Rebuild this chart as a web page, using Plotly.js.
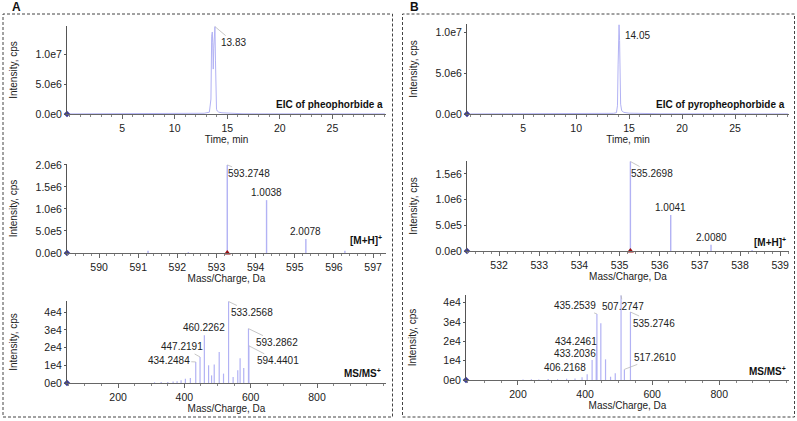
<!DOCTYPE html>
<html><head><meta charset="utf-8">
<script src="https://cdn.plot.ly/plotly-3.0.1.min.js"></script>
<style>html,body{margin:0;padding:0;background:#fff;}#chart{width:797px;height:421px;}</style>
</head><body><div id="chart"></div>
<script>
// ---------- DATA ----------
// Panel A: pheophorbide a
const eicA_time = [0, 3, 6, 9, 11, 12, 12.8, 13.3, 13.45, 13.52, 13.58, 13.62, 13.67, 13.72, 13.77, 13.83, 13.88, 13.93, 13.98, 14.05, 14.2, 14.5, 15.0, 15.5, 16.0, 16.5, 18, 22, 26, 30];
const eicA_int  = [2e4, 2e4, 3e4, 3e4, 6e4, 8e4, 1.2e5, 3e5, 2.5e6, 1.3e7, 1.37e7, 1.2e7, 7.5e6, 1.1e7, 1.4e7, 1.46e7, 9e6, 3e6, 8e5, 5e5, 3e5, 2e5, 1.5e5, 1e5, 7e4, 4e4, 3e4, 2e4, 2e4, 2e4];
const msA_mz  = [591.25, 592.28, 593.2748, 594.2786, 595.2826, 596.28];
const msA_int = [5e4, 2e4, 2.0e6, 1.2e6, 3.2e5, 5e4];
const msmsA_mz  = [310, 330, 350, 366, 378, 390, 403, 418, 434.2484, 447.2191, 460.2262, 473, 482, 490, 505, 518, 533.2568, 547, 561, 568, 579, 593.2862, 594.4401];
const msmsA_int = [4e2, 5e2, 6e2, 8e2, 1e3, 1.5e3, 2.4e3, 2.8e3, 1.19e4, 1.47e4, 2.7e4, 1.0e4, 4.3e3, 1.05e4, 1.75e4, 5.3e3, 4.6e4, 3.4e3, 7.2e3, 1.4e4, 8.5e3, 3.07e4, 2.1e4];
const precursorA = 593.2748;

// Panel B: pyropheophorbide a
const eicB_time = [0, 4, 8, 11, 12.5, 13.5, 13.8, 13.9, 13.96, 14.0, 14.05, 14.1, 14.15, 14.2, 14.3, 14.5, 15, 16, 18, 24, 30];
const eicB_int  = [1e4, 1e4, 2e4, 3e4, 5e4, 8e4, 1.5e5, 1e6, 6e6, 1.05e7, 1.09e7, 9e6, 4e6, 1.2e6, 4e5, 2e5, 1e5, 5e4, 3e4, 2e4, 1e4];
const msB_mz  = [533.5, 535.2698, 536.2739, 537.2778, 538.3];
const msB_int = [1e4, 1.74e6, 7.0e5, 1.2e5, 2e4];
const msmsB_mz  = [215, 240, 262, 290, 318, 345, 370, 391, 406.2168, 421, 433.2036, 434.2461, 435.2539, 447, 461, 476, 490, 507.2747, 517.2610, 535.2746];
const msmsB_int = [3e2, 4e2, 3e2, 5e2, 4e2, 6e2, 8e2, 1.4e3, 3e3, 1.04e4, 1.2e4, 1.8e4, 3.42e4, 2.94e4, 1.07e4, 1.7e3, 3.5e3, 4.38e4, 5.5e3, 3.52e4];
const precursorB = 535.2698;

// Tick labels
const eicXTicks = [5, 10, 15, 20, 25];
const eicYVals = [0, 5e6, 1e7];
const eicYText = ['0.0e0', '5.0e6', '1.0e7'];
const msAXTicks = [590, 591, 592, 593, 594, 595, 596, 597];
const msAYVals = [0, 5e5, 1e6, 1.5e6, 2e6];
const msAYText = ['0.0e0', '5.0e5', '1.0e6', '1.5e6', '2.0e6'];
const msBXTicks = [532, 533, 534, 535, 536, 537, 538, 539];
const msBYVals = [0, 5e5, 1e6, 1.5e6];
const msBYText = ['0.0e0', '5.0e5', '1.0e6', '1.5e6'];
const msmsXTicks = [200, 400, 600, 800];
const msmsYVals = [0, 1e4, 2e4, 3e4, 4e4];
const msmsYText = ['0e0', '1e4', '2e4', '3e4', '4e4'];

// Peak labels
const eicALabel = {x: 13.83, text: '13.83'};
const eicBLabel = {x: 14.05, text: '14.05'};
const msALabels = ['593.2748', '1.0038', '2.0078'];
const msBLabels = ['535.2698', '1.0041', '2.0080'];
const msmsALabelMz = [533.2568, 460.2262, 447.2191, 434.2484, 593.2862, 594.4401];
const msmsBLabelMz = [435.2539, 434.2461, 433.2036, 406.2168, 507.2747, 535.2746, 517.2610];

// ---------- HELPERS ----------
const W = 797, H = 421;
const FONT = 'Arial, "Liberation Sans", sans-serif';
const LINE = '#b2b2f4';
const dx = (a, b) => [a / W, b / W];
const dy = (top, bot) => [1 - bot / H, 1 - top / H];

function sticks(mz, it) {
  const x = [], y = [];
  mz.forEach((m, i) => { x.push(m, m, null); y.push(0, it[i], null); });
  return {x, y};
}
function intensityOf(mzArr, intArr, m) { return intArr[mzArr.indexOf(m)]; }

const ranges = {
  x1: [-0.24, 30.1], x2: [589.18, 597.33], x3: [46, 1008],
  x4: [-0.31, 30.1], x5: [531.2, 539.22], x6: [45, 1008]
};

const traces = [];
function addLine(xa, ya, x, y, w) {
  traces.push({type: 'scatter', mode: 'lines', x, y, xaxis: xa, yaxis: ya,
    line: {color: LINE, width: w}, hoverinfo: 'skip'});
}
addLine('x', 'y', eicA_time, eicA_int, 1);
let s = sticks(msA_mz, msA_int); addLine('x2', 'y2', s.x, s.y, 1.4);
s = sticks(msmsA_mz, msmsA_int); addLine('x3', 'y3', s.x, s.y, 1.2);
addLine('x4', 'y4', eicB_time, eicB_int, 1);
s = sticks(msB_mz, msB_int); addLine('x5', 'y5', s.x, s.y, 1.4);
s = sticks(msmsB_mz, msmsB_int); addLine('x6', 'y6', s.x, s.y, 1.2);

// start markers (navy) and precursor markers (red)
[['x','y','x1'],['x2','y2','x2'],['x3','y3','x3'],['x4','y4','x4'],['x5','y5','x5'],['x6','y6','x6']].forEach(([xa, ya, r]) => {
  traces.push({type: 'scatter', mode: 'markers', x: [ranges[r][0]], y: [0], xaxis: xa, yaxis: ya,
    marker: {symbol: 'diamond', size: 5, color: '#3b3b95'}, cliponaxis: false, hoverinfo: 'skip'});
});
traces.push({type: 'scatter', mode: 'markers', x: [precursorA], y: [0], xaxis: 'x2', yaxis: 'y2',
  marker: {symbol: 'triangle-up', size: 6, color: '#9b1010'}, cliponaxis: false, hoverinfo: 'skip'});
traces.push({type: 'scatter', mode: 'markers', x: [precursorB], y: [0], xaxis: 'x5', yaxis: 'y5',
  marker: {symbol: 'triangle-up', size: 6, color: '#9b1010'}, cliponaxis: false, hoverinfo: 'skip'});

const tickFont = {family: FONT, size: 10.5, color: '#222'};
const titleFont = {family: FONT, size: 10, color: '#222'};
function xAxis(dom, anchor, range, tickvals, title, minor) {
  return {domain: dom, anchor, range, tickmode: 'array', tickvals, ticktext: tickvals.map(String),
    showline: true, linecolor: '#666', linewidth: 1, ticks: 'outside', ticklen: 4, tickcolor: '#666',
    minor: {ticks: 'outside', ticklen: 2, tickcolor: '#888', dtick: minor, showgrid: false},
    showgrid: false, zeroline: false, tickfont: tickFont,
    title: {text: title, font: titleFont, standoff: 1}, fixedrange: true};
}
function yAxis(dom, anchor, range, vals, text, standoff) {
  return {domain: dom, anchor, range, tickmode: 'array', tickvals: vals, ticktext: text,
    showline: true, linecolor: '#555', linewidth: 1, ticks: 'outside', ticklen: 2, tickcolor: '#555',
    showgrid: false, zeroline: false, tickfont: tickFont,
    title: {text: 'Intensity, cps', font: titleFont, standoff}, fixedrange: true};
}

const layout = {
  width: W, height: H, margin: {l: 0, r: 0, t: 0, b: 0}, showlegend: false,
  paper_bgcolor: '#fff', plot_bgcolor: '#fff', font: {family: FONT},
  xaxis:  xAxis(dx(67, 386), 'y',  ranges.x1, eicXTicks, 'Time, min', 1),
  yaxis:  yAxis(dy(26, 114), 'x',  [0, 1.47e7], eicYVals, eicYText, 16),
  xaxis2: xAxis(dx(67, 386), 'y2', ranges.x2, msAXTicks, 'Mass/Charge, Da', 0.2),
  yaxis2: yAxis(dy(164, 253), 'x2', [0, 2.02e6], msAYVals, msAYText, 16),
  xaxis3: xAxis(dx(67, 386), 'y3', ranges.x3, msmsXTicks, 'Mass/Charge, Da', 50),
  yaxis3: yAxis(dy(301, 383), 'x3', [0, 4.63e4], msmsYVals, msmsYText, 24),
  xaxis4: xAxis(dx(467, 789), 'y4', ranges.x4, eicXTicks, 'Time, min', 1),
  yaxis4: yAxis(dy(24, 114), 'x4', [0, 1.1e7], eicYVals, eicYText, 16),
  xaxis5: xAxis(dx(467, 789), 'y5', ranges.x5, msBXTicks, 'Mass/Charge, Da', 0.2),
  yaxis5: yAxis(dy(161, 251), 'x5', [0, 1.75e6], msBYVals, msBYText, 16),
  xaxis6: xAxis(dx(466, 789), 'y6', ranges.x6, msmsXTicks, 'Mass/Charge, Da', 50),
  yaxis6: yAxis(dy(295, 380), 'x6', [0, 4.4e4], msmsYVals, msmsYText, 24),
  shapes: [
    {type: 'rect', xref: 'paper', yref: 'paper', x0: 3 / W, x1: 392.5 / W, y0: 1 - 417 / H, y1: 1 - 14 / H,
     line: {color: '#444', width: 1, dash: '3px,2px'}},
    {type: 'rect', xref: 'paper', yref: 'paper', x0: 402.5 / W, x1: 794.5 / W, y0: 1 - 417 / H, y1: 1 - 14 / H,
     line: {color: '#444', width: 1, dash: '3px,2px'}}
  ],
  annotations: []
};

const ann = layout.annotations;
const annFont = {family: FONT, size: 10, color: '#222'};
function callout(xr, yr, x, y, text, ax, ay) {
  ann.push({xref: xr, yref: yr, x, y, text, showarrow: true, arrowhead: 0, arrowwidth: 0.8,
    arrowcolor: '#b8b8b8', ax, ay, standoff: 0, font: annFont});
}
function above(xr, yr, x, y, text) {
  ann.push({xref: xr, yref: yr, x, y, text, showarrow: false, yanchor: 'bottom', xanchor: 'center', font: annFont});
}
function paperText(xpx, ypx, text, anchor, size) {
  ann.push({xref: 'paper', yref: 'paper', x: xpx / W, y: 1 - ypx / H, text, showarrow: false,
    xanchor: anchor, yanchor: 'middle', font: {family: FONT, size, color: '#111'}});
}

// EIC labels
callout('x', 'y', eicALabel.x, intensityOf(eicA_time, eicA_int, eicALabel.x), eicALabel.text, 19, 16);
callout('x4', 'y4', eicBLabel.x, intensityOf(eicB_time, eicB_int, eicBLabel.x), eicBLabel.text, 18, 11);
// MS labels
callout('x2', 'y2', msA_mz[2], msA_int[2], msALabels[0], 22, 9);
above('x2', 'y2', msA_mz[3], msA_int[3], msALabels[1]);
above('x2', 'y2', msA_mz[4], msA_int[4], msALabels[2]);
callout('x5', 'y5', msB_mz[1], msB_int[1], msBLabels[0], 22, 12);
above('x5', 'y5', msB_mz[2], msB_int[2], msBLabels[1]);
above('x5', 'y5', msB_mz[3], msB_int[3], msBLabels[2]);
// MS/MS A labels
const offA = [[23, 11], null, [-18, -10], [-27, -1], [29, 14], [29, 15]];
msmsALabelMz.forEach((m, i) => {
  const y = intensityOf(msmsA_mz, msmsA_int, m);
  if (offA[i]) callout('x3', 'y3', m, y, m.toFixed(4), offA[i][0], offA[i][1]);
  else above('x3', 'y3', m, y, m.toFixed(4));
});
const offB = [[-22, -8], [-21, -4], [-21, -3], [-22, -7], [2, 11], [24, 11], [31, -12]];
msmsBLabelMz.forEach((m, i) => {
  callout('x6', 'y6', m, intensityOf(msmsB_mz, msmsB_int, m), m.toFixed(4), offB[i][0], offB[i][1]);
});

// panel / trace labels
paperText(385, 105, '<b>EIC of pheophorbide a</b>', 'right', 10);
paperText(787, 105, '<b>EIC of pyropheophorbide a</b>', 'right', 10);
paperText(384, 240, '<b>[M+H]<sup>+</sup></b>', 'right', 10);
paperText(788, 242, '<b>[M+H]<sup>+</sup></b>', 'right', 10);
paperText(383, 373, '<b>MS/MS<sup>+</sup></b>', 'right', 10);
paperText(788, 371, '<b>MS/MS<sup>+</sup></b>', 'right', 10);
paperText(10, 7, '<b>A</b>', 'left', 12);
paperText(408, 7, '<b>B</b>', 'left', 12);

Plotly.newPlot('chart', traces, layout, {staticPlot: true, displayModeBar: false});
</script>
</body></html>
